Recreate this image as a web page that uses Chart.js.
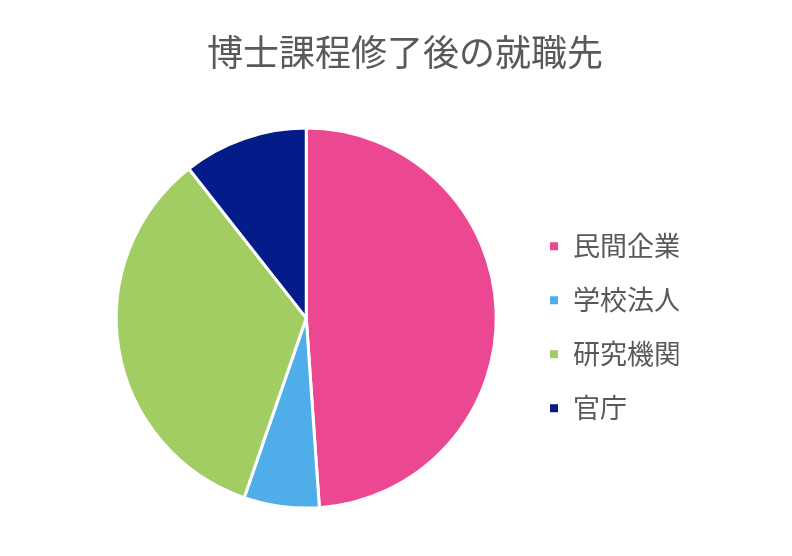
<!DOCTYPE html>
<html>
<head>
<meta charset="utf-8">
<script src="https://cdn.jsdelivr.net/npm/chart.js@4/dist/chart.umd.min.js"></script>
<style>
  html, body { margin: 0; padding: 0; background: #fff; }
  #wrap { width: 792px; height: 556px; }
</style>
</head>
<body>
<div id="wrap"><canvas id="chart"></canvas></div>
<script>
// data
const categories = ['民間企業', '学校法人', '研究機関', '官庁'];
const shares = [48.9, 6.4, 34.1, 10.6];
const sliceColors = ['#EB4891', '#4FAEE9', '#A2CD62', '#041B8A'];

const fontFamily = "'Noto Sans CJK JP', 'Noto Sans', sans-serif";
const textColor = '#595959';

const ctx = document.getElementById('chart').getContext('2d');

new Chart(ctx, {
  type: 'pie',
  data: {
    labels: categories,
    datasets: [{
      data: shares,
      backgroundColor: sliceColors,
      borderColor: '#ffffff',
      borderWidth: 3,
      radius: 190
    }]
  },
  options: {
    responsive: true,
    maintainAspectRatio: false,
    animation: false,
    layout: {
      padding: { left: 91, right: 73, top: 0, bottom: 14 }
    },
    plugins: {
      title: {
        display: true,
        text: '博士課程修了後の就職先',
        color: textColor,
        font: { family: fontFamily, size: 36, weight: 'normal' },
        padding: { top: 31, bottom: 20 }
      },
      // empty box on the right, only used as a spacer next to the legend
      subtitle: {
        display: true,
        position: 'right',
        text: '',
        font: { size: 10 },
        padding: { top: 0, bottom: 28.5 }
      },
      legend: {
        position: 'right',
        title: {
          display: true,
          text: '',
          font: { size: 12 },
          padding: { top: 98, bottom: 0 }
        },
        labels: {
          color: textColor,
          font: { family: fontFamily, size: 27 },
          boxWidth: 11,
          boxHeight: 11,
          padding: 27
        }
      },
      tooltip: { enabled: false }
    }
  }
});
</script>
</body>
</html>
